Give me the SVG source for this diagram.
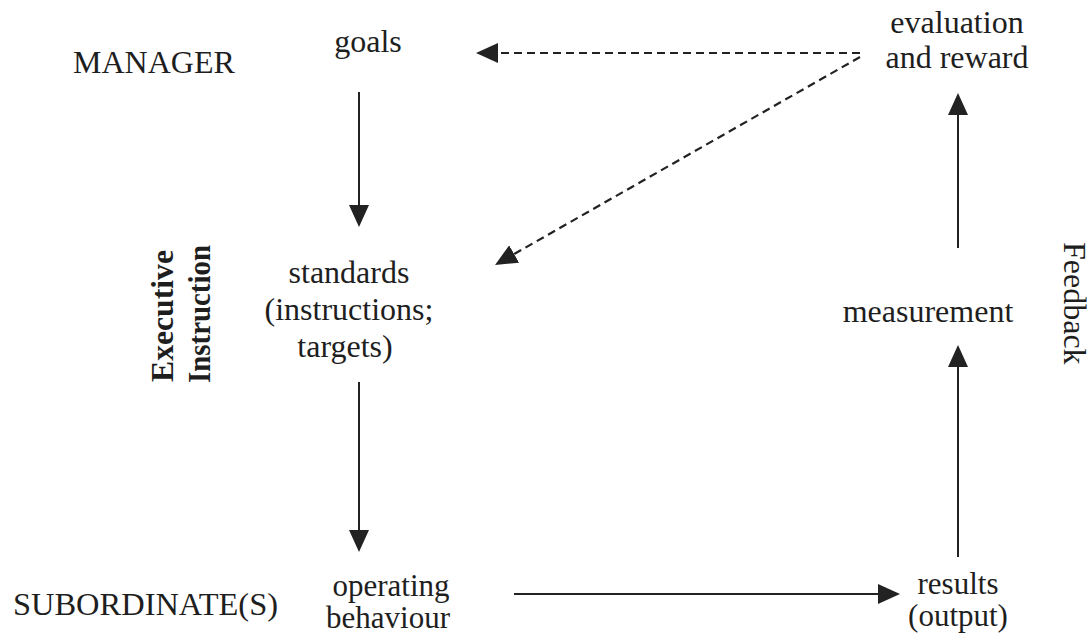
<svg xmlns="http://www.w3.org/2000/svg" width="1091" height="636" viewBox="0 0 1091 636">
<style>
text{font-family:"Liberation Serif","Times New Roman",serif;font-size:32px;fill:#1e1e1e}
.c{text-anchor:middle}
.b{font-weight:bold}
.s{font-size:31px}
.ln{stroke:#222;stroke-width:2;fill:none}
.d{stroke-dasharray:8 5;stroke-width:2.2}
</style>
<defs>
<marker id="ah" viewBox="0 0 22 20" refX="12" refY="10" markerWidth="22" markerHeight="20" markerUnits="userSpaceOnUse" orient="auto">
<path d="M0,0 L22,10 L0,20 z" fill="#222"/>
</marker>
</defs>
<rect width="1091" height="636" fill="#fff"/>
<g id="label-manager"><text x="73" y="73">MANAGER</text></g>
<g id="label-subordinates"><text x="13" y="615" textLength="265" lengthAdjust="spacingAndGlyphs">SUBORDINATE(S)</text></g>
<g id="label-executive-instruction">
<text class="b" transform="translate(173,382) rotate(-90)" textLength="132" lengthAdjust="spacingAndGlyphs">Executive</text>
<text class="b" transform="translate(210,383) rotate(-90)" textLength="138" lengthAdjust="spacingAndGlyphs">Instruction</text>
</g>
<g id="label-feedback"><text transform="translate(1064,242) rotate(90)">Feedback</text></g>
<g id="node-goals"><text class="c" x="368" y="52">goals</text></g>
<g id="node-standards">
<text class="c" x="349" y="283">standards</text>
<text class="c" x="349" y="320">(instructions;</text>
<text class="c" x="345" y="357">targets)</text>
</g>
<g id="node-operating"><text class="c s" x="391" y="596">operating</text><text class="c s" x="388" y="628">behaviour</text></g>
<g id="node-results"><text class="c s" x="958" y="594">results</text><text class="c s" x="958" y="626">(output)</text></g>
<g id="node-measurement"><text class="c" x="928" y="322">measurement</text></g>
<g id="node-evaluation"><text class="c" x="957" y="33">evaluation</text><text class="c" x="957" y="68">and reward</text></g>
<g id="connectors">
<line class="ln" x1="359" y1="92" x2="359" y2="217" marker-end="url(#ah)"/>
<line class="ln" x1="359" y1="382" x2="359" y2="542" marker-end="url(#ah)"/>
<line class="ln" x1="514" y1="594" x2="890" y2="594" marker-end="url(#ah)"/>
<line class="ln" x1="958" y1="557" x2="958" y2="355" marker-end="url(#ah)"/>
<line class="ln" x1="958" y1="248" x2="958" y2="103" marker-end="url(#ah)"/>
<line class="ln d" x1="860" y1="53" x2="486" y2="53" marker-end="url(#ah)"/>
<line class="ln d" x1="860" y1="57" x2="503.7" y2="260" marker-end="url(#ah)"/>
</g>
</svg>
